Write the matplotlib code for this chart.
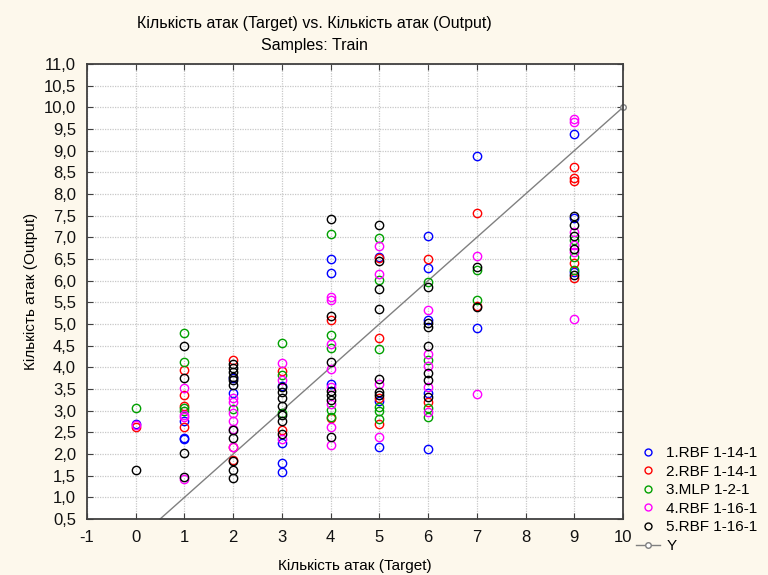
import matplotlib
matplotlib.use("Agg")
import matplotlib.pyplot as plt
from matplotlib.lines import Line2D
from matplotlib.ticker import FuncFormatter, MultipleLocator

plt.rcParams["font.family"] = ["Liberation Sans", "DejaVu Sans"]

# data: target value and network output per model
blue_x = [0, 1, 1, 1, 2, 2, 3, 3, 3, 3, 4, 4, 4, 5, 5, 5, 6, 6, 6, 6, 6, 7, 7, 9, 9, 9]
blue_y = [2.70, 2.75, 2.38, 2.35, 3.40, 3.75, 3.56, 2.25, 1.79, 1.58, 6.50, 6.18, 3.62,
          6.55, 3.23, 2.17, 7.03, 6.29, 5.09, 3.40, 2.11, 8.88, 4.90, 9.38, 7.45, 6.20]

red_x = [0, 1, 1, 1, 1, 2, 2, 2, 3, 3, 4, 4, 5, 5, 5, 5, 6, 6, 7, 7, 9, 9, 9, 9, 9]
red_y = [2.62, 3.93, 3.36, 3.11, 2.63, 4.16, 2.15, 1.86, 3.92, 2.55, 5.10, 2.82,
         6.52, 4.68, 3.29, 2.69, 6.49, 3.21, 7.56, 5.42, 8.62, 8.36, 8.30, 6.40, 6.06]

green_x = [0, 1, 1, 1, 1, 2, 3, 3, 3, 4, 4, 4, 4, 4, 5, 5, 5, 5, 5, 5, 6, 6, 6, 6,
           7, 7, 9, 9, 9]
green_y = [3.05, 4.80, 4.12, 3.05, 3.00, 3.03, 4.55, 3.82, 2.95, 7.08, 4.75, 4.44,
           3.02, 2.86, 6.98, 6.02, 4.42, 3.09, 3.00, 2.81, 5.96, 4.17, 3.05, 2.86,
           6.25, 5.55, 6.94, 6.55, 6.25]

magenta_x = [0, 1, 1, 1, 1, 2, 2, 2, 2, 2, 2, 3, 3, 3, 4, 4, 4, 4, 4, 4, 4, 4,
             5, 5, 5, 5, 6, 6, 6, 6, 6, 7, 7, 9, 9, 9, 9, 9, 9]
magenta_y = [2.68, 3.52, 2.90, 2.85, 1.42, 3.29, 3.19, 2.94, 2.75, 2.58, 2.15,
             4.11, 3.71, 2.34, 5.62, 5.56, 4.53, 3.95, 3.55, 3.15, 2.63, 2.21,
             6.80, 6.15, 3.61, 2.40, 5.32, 4.31, 4.02, 3.54, 2.98, 6.58, 3.38,
             9.72, 9.65, 7.13, 6.82, 6.66, 5.12]

black_x = [0, 1, 1, 1, 1, 2, 2, 2, 2, 2, 2, 2, 2, 2, 2, 2, 3, 3, 3, 3, 3, 3, 3,
           4, 4, 4, 4, 4, 4, 4, 5, 5, 5, 5, 5, 5, 5, 6, 6, 6, 6, 6, 6, 6, 7, 7,
           9, 9, 9, 9, 9]
black_y = [1.62, 4.49, 3.76, 2.03, 1.46, 4.08, 3.99, 3.90, 3.78, 3.71, 3.59, 2.56,
           2.37, 1.83, 1.63, 1.45, 3.55, 3.44, 3.30, 3.11, 2.90, 2.75, 2.45,
           7.42, 5.18, 4.13, 3.45, 3.36, 3.25, 2.40, 7.28, 6.46, 5.80, 5.34, 3.73,
           3.42, 3.36, 5.85, 5.03, 4.92, 4.49, 3.88, 3.71, 3.32, 6.31, 5.39,
           7.49, 7.28, 7.04, 6.72, 6.12]

line_x = [0.5, 10]
line_y = [0.5, 10]

series = [
    ("1.RBF 1-14-1", blue_x, blue_y, "#0000ff"),
    ("2.RBF 1-14-1", red_x, red_y, "#ff0000"),
    ("3.MLP 1-2-1", green_x, green_y, "#00a000"),
    ("4.RBF 1-16-1", magenta_x, magenta_y, "#ff00ff"),
    ("5.RBF 1-16-1", black_x, black_y, "#000000"),
]

bg = "#fdf8ec"
fig = plt.figure(figsize=(7.68, 5.75), dpi=100, facecolor=bg)
ax = fig.add_axes([0.1133, 0.0974, 0.6979, 0.7913])
ax.set_facecolor("white")

for label, xs, ys, col in series:
    ax.plot(xs, ys, linestyle="none", marker="o", ms=6, mfc="none",
            mec=col, mew=1.0, zorder=3)

ax.plot(line_x, line_y, color="#808080", lw=1, marker="o", ms=4,
        mfc="white", markevery=[1], clip_on=False, zorder=2)

ax.set_xlim(-1, 10)
ax.set_ylim(0.5, 11)
ax.xaxis.set_major_locator(MultipleLocator(1))
ax.yaxis.set_major_locator(MultipleLocator(0.5))
ax.yaxis.set_major_formatter(FuncFormatter(lambda v, p: f"{v:.1f}".replace(".", ",")))
ax.xaxis.set_major_formatter(FuncFormatter(lambda v, p: f"{v:.0f}"))
ax.tick_params(direction="in", length=4, top=True, right=True,
               labelsize=12, color="#404040", labelcolor="#111111", pad=8)
ax.grid(True, color="#c8c8c8", linestyle=(0, (1, 1)), linewidth=0.9)
ax.set_axisbelow(True)
for sp in ax.spines.values():
    sp.set_color("#404040")
    sp.set_linewidth(1.3)

ax.set_xlabel("Кількість атак (Target)", fontsize=11, labelpad=10)
ax.set_ylabel("Кількість атак (Output)", fontsize=11, labelpad=4)

fig.text(0.409, 0.959, "Кількість атак (Target) vs. Кількість атак (Output)",
         ha="center", va="center", fontsize=11.5)
fig.text(0.409, 0.921, "Samples: Train", ha="center", va="center", fontsize=11.5)

handles = [Line2D([], [], linestyle="none", marker="o", ms=5, mfc="none",
                  mec=col, mew=1.0) for _, _, _, col in series]
handles.append(Line2D([], [], color="#808080", lw=1, marker="o", ms=4, mfc="white"))
labels = [s[0] for s in series] + ["Y"]
fig.legend(handles, labels, loc="lower left", bbox_to_anchor=(0.818, 0.025),
           frameon=False, fontsize=11, handlelength=1.6, handletextpad=0.4,
           labelspacing=0.3, borderpad=0)

fig.savefig("out.png", dpi=100, facecolor=bg)
